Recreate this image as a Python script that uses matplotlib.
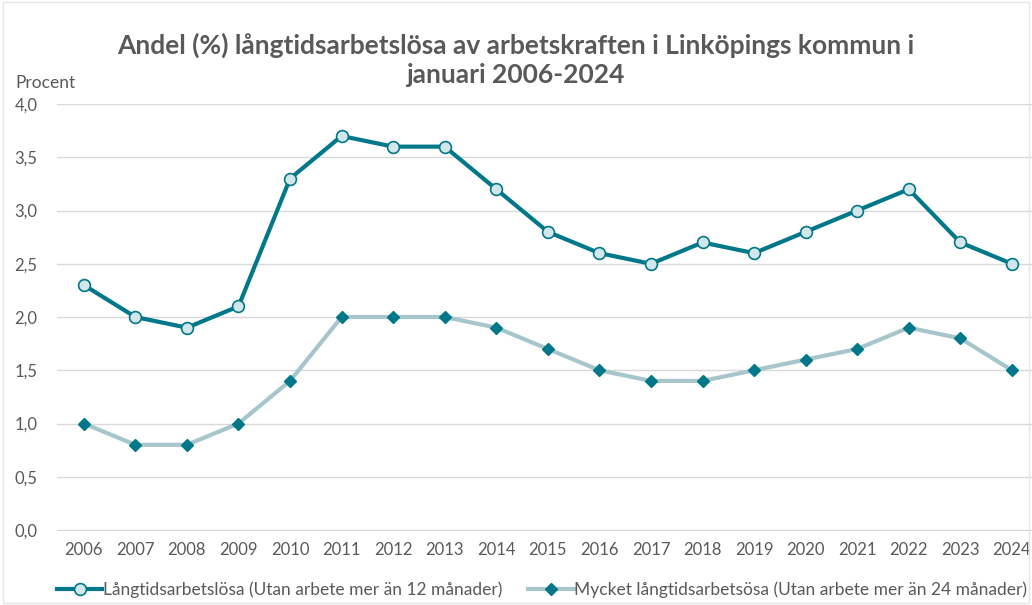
import numpy as np
import matplotlib.pyplot as plt
from matplotlib.lines import Line2D

plt.rcParams['font.family'] = ['Lato', 'DejaVu Sans']

years = [str(y) for y in range(2006, 2025)]
langtid = [2.3, 2.0, 1.9, 2.1, 3.3, 3.7, 3.6, 3.6, 3.2, 2.8, 2.6, 2.5, 2.7, 2.6, 2.8, 3.0, 3.2, 2.7, 2.5]
mycket = [1.0, 0.8, 0.8, 1.0, 1.4, 2.0, 2.0, 2.0, 1.9, 1.7, 1.5, 1.4, 1.4, 1.5, 1.6, 1.7, 1.9, 1.8, 1.5]
yticks = [0.0, 0.5, 1.0, 1.5, 2.0, 2.5, 3.0, 3.5, 4.0]

dark = '#00788A'
light = '#A6C6CB'
grey = '#595959'

fig = plt.figure(figsize=(10.32, 6.05), dpi=100)
ax = fig.add_axes([57 / 1032, 0.124, 1 - 57 / 1032, 0.704])

x = np.arange(len(years))
l1, = ax.plot(x, langtid, color=dark, lw=3, solid_joinstyle='round', solid_capstyle='round',
              marker='o', ms=8.5, mfc='#D3E6EA', mec=dark, mew=1.2, zorder=3)
l2, = ax.plot(x, mycket, color=light, lw=3, solid_joinstyle='round', solid_capstyle='round',
              marker='D', ms=6.5, mfc=dark, mec=dark, zorder=3)

ax.set_xlim(-0.52, 18.39)
ax.set_ylim(0, 4.0)
ax.set_xticks(x)
ax.set_xticklabels(years)
ax.set_yticks(yticks)
ax.set_yticklabels([f'{v:.1f}'.replace('.', ',') for v in yticks])
ax.grid(axis='y', color='#D9D9D9', lw=1)
ax.set_axisbelow(True)
for s in ax.spines.values():
    s.set_visible(False)
ax.spines['bottom'].set_visible(True)
ax.spines['bottom'].set_color('#D9D9D9')
ax.tick_params(length=0, labelsize=12, labelcolor=grey)
ax.tick_params(axis='x', pad=9)
ax.tick_params(axis='y', pad=14)

fig.text(0.5, 1 - 60 / 605, 'Andel (%) långtidsarbetslösa av arbetskraften i Linköpings kommun i\njanuari 2006-2024',
         ha='center', va='center', fontsize=19, fontweight='bold', color=grey, linespacing=1.25)
fig.text(15 / 1032, 1 - 83 / 605, 'Procent', ha='left', va='center', fontsize=12.5, color=grey)

handles = [
    Line2D([], [], color=dark, lw=3, marker='o', ms=8.5, mfc='#D3E6EA', mec=dark, mew=1.2),
    Line2D([], [], color=light, lw=3, marker='D', ms=6.5, mfc=dark, mec=dark),
]
labels = ['Långtidsarbetslösa (Utan arbete mer än 12 månader)',
          'Mycket långtidsarbetsösa (Utan arbete mer än 24 månader)']
leg = fig.legend(handles, labels, loc='center left', bbox_to_anchor=(57 / 1032, 1 - 590 / 605),
                 ncol=2, frameon=False, fontsize=12.5, labelcolor=grey, handlelength=2.6,
                 handletextpad=0.05, columnspacing=1.5, borderpad=0, borderaxespad=0)

fig.patches.append(plt.Rectangle((0.003, 0.003), 0.994, 0.994, transform=fig.transFigure,
                                 fill=False, edgecolor='#E6E6E6', lw=1))

fig.savefig('out.png', dpi=100)
